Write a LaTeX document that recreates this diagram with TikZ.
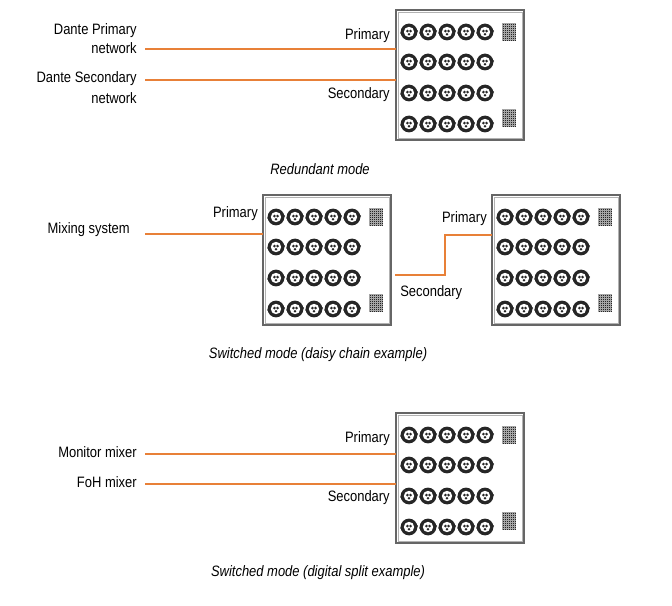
\documentclass[tikz,border=0pt]{standalone}
\usepackage{fontspec}
\setmainfont{Liberation Sans}[FakeStretch=0.86]
\definecolor{wireor}{RGB}{232,128,56}
\begin{document}
\begin{tikzpicture}[x=0.75pt,y=-0.75pt,
  lbl/.style={font=\fontsize{11.3}{13}\selectfont,inner sep=0pt},
  captxt/.style={font=\fontsize{11.3}{13}\selectfont\itshape,inner sep=0pt},
  wire/.style={draw=wireor,line width=1.6pt},
  conn/.pic={\fill[black!85] (0,0) circle (6.3pt);\fill[white] (0,0) circle (3.9pt);
     \fill[black!85] (-1.6,-0.9) circle (1.1pt) (1.6,-0.9) circle (1.1pt) (0,2.2) circle (1pt);
     \fill[black!85] (-7.8,1) circle (0.9pt) (7.8,-1) circle (0.9pt);},
  grille/.pic={\fill[black!35] (0,0) rectangle (14,18);
     \foreach \i in {0,...,6}{\foreach \j in {0,...,8}{\fill[black!85] (0.6+\i*2,0.6+\j*2) rectangle +(1.3,1.3);}}},
  unit/.pic={\draw[black!60,line width=1.2pt,fill=white] (0,0) rectangle (128,130);
     \draw[black!30,line width=0.4pt] (2,2) rectangle (126,128);
     \foreach \r in {22,52,83,114}{\foreach \c in {13,32,51,70,89}{\pic at (\c,\r) {conn};}}
     \pic at (106,13) {grille}; \pic at (106,99) {grille};}
]
\useasboundingbox (0,0) rectangle (672,606);
% Redundant
\pic at (396,10) {unit};
\coordinate (a1) at (145,49); \coordinate (b1) at (396,49);
\coordinate (a2) at (145,80); \coordinate (b2) at (396,80);
\draw[wire] (a1) -- (b1); \draw[wire] (a2) -- (b2);
\node[lbl,anchor=east] (t1) at (137,31) {Dante Primary};
\node[lbl,anchor=east] (t2) at (137,48) {network};
\node[lbl,anchor=east] (t3) at (137,79) {Dante Secondary};
\node[lbl,anchor=east] (t4) at (137,98) {network};
\node[lbl,anchor=east] (p1) at (390,36) {Primary};
\node[lbl,anchor=east] (s1) at (390,95) {Secondary};
\node[captxt] (c1) at (320,169) {Redundant mode};
% Daisy chain
\pic at (263,195) {unit};
\pic at (492,195) {unit};
\coordinate (a3) at (145,234); \coordinate (b3) at (263,234);
\draw[wire] (a3) -- (b3);
\coordinate (d1) at (395,275); \coordinate (d2) at (492,235);
\draw[wire] (d1) -- (445,275) -- (445,235) -- (d2);
\node[lbl,anchor=east] (m) at (130,230) {Mixing system};
\node[lbl,anchor=east] (p2) at (258,214) {Primary};
\node[lbl,anchor=east] (p3) at (487,219) {Primary};
\node[lbl,anchor=west] (s2) at (400,293) {Secondary};
\node[captxt] (c2) at (318,355) {Switched mode (daisy chain example)};
% Split
\pic at (396,413) {unit};
\coordinate (a5) at (145,454); \coordinate (b5) at (396,454);
\coordinate (a6) at (145,484); \coordinate (b6) at (396,484);
\draw[wire] (a5) -- (b5); \draw[wire] (a6) -- (b6);
\node[lbl,anchor=east] (mm) at (137,452) {Monitor mixer};
\node[lbl,anchor=east] (fm) at (137,482) {FoH mixer};
\node[lbl,anchor=east] (p4) at (390,439) {Primary};
\node[lbl,anchor=east] (s4) at (390,498) {Secondary};
\node[captxt] (c3) at (318,573) {Switched mode (digital split example)};
\end{tikzpicture}
\end{document}
